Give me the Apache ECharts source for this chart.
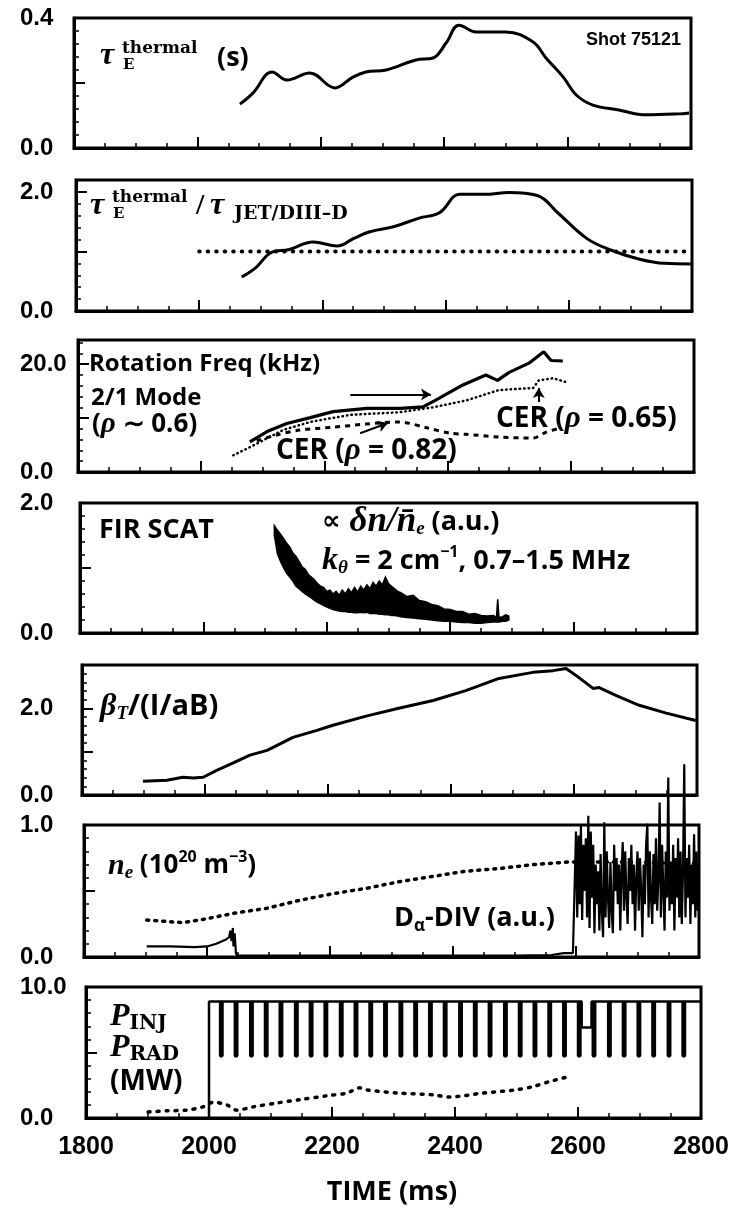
<!DOCTYPE html>
<html><head><meta charset="utf-8">
<script src="https://cdn.jsdelivr.net/npm/echarts@6/dist/echarts.min.js"></script>
<style>html,body{margin:0;padding:0;background:#fff}#c{width:732px;height:1212px}</style>
</head><body><div id="c"></div>
<script>
// ---------- DATA ----------
const xTickLabels = [1800, 2000, 2200, 2400, 2600, 2800];
const yTickLabels = [[0, 0.4], [0, 2.0], [0, 20.0], [0, 2.0], [0, 2.0], [0, 1.0], [0, 10.0]];

// Panel 1: tau_E thermal (s)
const tauETime  = [2069,2090,2121,2145,2182,2223,2252,2273,2306,2354,2382,2403,2424,2452,2500,2544,2565,2593,2614,2641,2683,2727,2780,2797];
const tauEValue = [0.135,0.169,0.234,0.209,0.231,0.185,0.218,0.234,0.240,0.271,0.277,0.323,0.378,0.357,0.357,0.326,0.277,0.218,0.163,0.132,0.117,0.102,0.105,0.108];

// Panel 2: tau_E / tau_JET/DIII-D
const ratioTime  = [2069,2092,2118,2145,2185,2224,2251,2277,2317,2357,2390,2423,2463,2503,2549,2582,2629,2669,2715,2755,2798];
const ratioValue = [0.57,0.73,0.99,1.03,1.16,1.09,1.22,1.33,1.42,1.56,1.65,1.96,1.96,1.99,1.94,1.65,1.22,1.02,0.87,0.80,0.79];
const ratioRefTime  = [2000, 2800];
const ratioRefValue = [1.0, 1.0];

// Panel 3: rotation frequency (kHz)
const rotModeTime  = [2079,2107,2139,2177,2214,2269,2323,2360,2380,2422,2462,2481,2500,2532,2556,2568,2587];
const rotModeValue = [5.6,7.5,9.0,10.1,11.2,11.8,11.8,12.1,13.3,16.0,18.0,17.0,18.5,20.2,22.3,20.7,20.6];
const cer65Time  = [2052,2079,2133,2177,2242,2323,2376,2431,2483,2539,2548,2571,2592];
const cer65Value = [3.1,4.6,7.8,9.3,10.6,11.1,12.0,13.3,15.2,15.6,17.0,17.4,16.7];
const cer82Time  = [2090,2120,2160,2214,2268,2321,2366,2404,2430,2483,2539,2560,2581];
const cer82Value = [5.8,6.8,7.8,8.3,8.9,9.3,8.2,7.2,7.0,6.5,6.3,7.4,8.1];
const rotArrows = [[[2242,14.4],[2373,14.4]], [[2258,7.2],[2303,9.1]], [[2548,13.0],[2548,15.6]]];

// Panel 4: FIR scattering fluctuation band (upper / lower envelope)
const firTime  = [2115,2120,2125,2130,2135,2140,2145,2150,2155,2160,2165,2170,2175,2180,2185,2190,2195,2200,2205,2210,2215,2220,2225,2230,2235,2240,2245,2250,2255,2260,2265,2270,2275,2280,2285,2290,2295,2300,2305,2310,2315,2320,2330,2340,2350,2360,2370,2380,2390,2400,2410,2420,2430,2440,2450,2460,2470,2475,2477,2479,2485,2490,2495];
const firUpper = [1.65,1.58,1.52,1.45,1.38,1.32,1.23,1.18,1.10,1.02,0.98,0.90,0.86,0.82,0.76,0.72,0.70,0.64,0.66,0.60,0.64,0.58,0.66,0.60,0.68,0.62,0.70,0.63,0.72,0.66,0.74,0.68,0.78,0.72,0.80,0.74,0.86,0.76,0.72,0.68,0.64,0.62,0.56,0.58,0.50,0.48,0.44,0.42,0.37,0.36,0.33,0.33,0.29,0.30,0.27,0.26,0.27,0.24,0.52,0.24,0.25,0.28,0.26];
const firLower = [1.50,1.22,1.10,1.00,0.92,0.86,0.80,0.72,0.68,0.64,0.60,0.57,0.54,0.50,0.47,0.45,0.42,0.40,0.38,0.36,0.35,0.34,0.33,0.33,0.32,0.32,0.31,0.31,0.32,0.31,0.32,0.30,0.30,0.30,0.29,0.29,0.28,0.28,0.27,0.27,0.26,0.25,0.24,0.23,0.22,0.21,0.20,0.19,0.18,0.18,0.17,0.16,0.16,0.15,0.15,0.16,0.17,0.17,0.17,0.17,0.18,0.18,0.20];

// Panel 5: beta_T/(I/aB)
const betaTime  = [1899,1938,1964,1981,1997,2019,2046,2073,2101,2143,2182,2208,2262,2315,2371,2424,2478,2533,2566,2587,2608,2631,2641,2668,2706,2750,2798];
const betaValue = [0.32,0.34,0.41,0.39,0.41,0.57,0.74,0.92,1.03,1.33,1.49,1.61,1.82,2.0,2.18,2.41,2.69,2.83,2.87,2.92,2.71,2.46,2.48,2.30,2.07,1.89,1.72];

// Panel 6: n_e (dotted) and D_alpha DIV (solid)
const neTime  = [1902,1961,2000,2042,2098,2151,2205,2259,2312,2367,2421,2475,2530,2589,2650,2700,2750,2800];
const neValue = [0.28,0.26,0.29,0.33,0.37,0.43,0.48,0.52,0.57,0.61,0.65,0.67,0.70,0.72,0.72,0.72,0.71,0.71];
const daTime  = [1902,1940,1980,2000,2015,2030,2036,2038,2040,2042,2043,2045,2047,2049,2100,2200,2300,2400,2500,2560,2580,2595,2598,
  2600,2602,2604,2606,2608,2610,2612,2614,2616,2618,2620,2622,2624,2626,2628,2630,2632,2634,2636,2638,2640,2642,2644,2646,2648,2650,
  2652,2654,2656,2658,2660,2662,2664,2666,2668,2670,2672,2674,2676,2678,2680,2682,2684,2686,2688,2690,2692,2694,2696,2698,2700,
  2702,2704,2706,2708,2710,2712,2714,2716,2718,2720,2722,2724,2726,2728,2730,2732,2734,2736,2738,2740,2742,2744,2746,2748,2750,
  2752,2754,2756,2758,2760,2762,2764,2766,2768,2770,2772,2774,2776,2778,2780,2782,2784,2786,2788,2790,2792,2794,2796,2798,2800];
const daValue = [0.08,0.08,0.075,0.08,0.10,0.13,0.15,0.20,0.12,0.22,0.08,0.18,0.03,0.01,0.01,0.01,0.01,0.01,0.01,0.015,0.03,0.03,0.03,
  0.95,0.30,0.92,0.40,1.00,0.28,0.85,0.50,0.90,0.30,1.07,0.22,0.95,0.45,0.85,0.18,0.70,0.40,0.65,0.20,0.78,0.35,0.15,1.02,0.30,0.80,
  0.45,0.22,0.72,0.35,0.18,0.85,0.50,0.75,0.40,0.70,0.20,0.65,0.87,0.35,0.80,0.45,0.25,0.75,0.50,0.85,0.40,0.70,0.20,0.60,0.80,
  0.35,0.75,0.50,0.15,0.70,0.40,0.85,1.01,0.30,0.80,0.45,0.25,0.78,0.40,0.90,0.35,0.60,1.17,0.30,0.85,0.50,0.20,0.80,0.45,1.36,
  0.35,0.70,0.40,0.85,0.20,0.75,0.45,0.90,0.30,0.80,0.25,0.65,1.46,0.30,0.75,0.45,0.85,0.25,0.70,0.40,0.93,0.30,0.80,0.35,0.60];

// Panel 7: P_INJ (modulated beam) and P_RAD (dotted)
const pinjOnTime = 2000;
const pinjHigh = 8.9;
const pinjLow = 4.6;
const pinjDipWidth = 8;
const pinjDipTimes = [2016,2040,2065,2089,2113,2138,2162,2186,2211,2235,2259,2283,2308,2332,2356,2380,2405,2429,2453,2478,2502,2526,2550,2574,2598,2622,2647,2671,2695,2719,2744,2768];
const pinjReduced = {from: 2606, to: 2622, level: 6.9};
const pradTime  = [1901,1932,1964,1990,2007,2029,2045,2072,2111,2148,2192,2224,2245,2255,2309,2364,2390,2445,2499,2527,2553,2580];
const pradValue = [0.46,0.55,0.6,0.85,1.2,1.0,0.6,0.85,1.15,1.4,1.7,1.9,2.3,2.15,1.9,1.77,1.6,1.9,2.15,2.4,2.77,3.1];

// ---------- BUILD ----------
const pair = (ts, vs) => ts.map((t, i) => [t, vs[i]]);
const pinjEnvelope = [[pinjOnTime, 0], [pinjOnTime, pinjHigh], [pinjReduced.from, pinjHigh], [pinjReduced.from, pinjReduced.level],
  [pinjReduced.to, pinjReduced.level], [pinjReduced.to, pinjHigh], [2800, pinjHigh]];

const grids = [
  {left: 74, top: 18,  width: 617, height: 130},
  {left: 76, top: 180, width: 616, height: 131},
  {left: 78, top: 340, width: 616, height: 132},
  {left: 80, top: 503, width: 617, height: 130},
  {left: 82, top: 665, width: 615, height: 130},
  {left: 84, top: 825, width: 615, height: 132},
  {left: 86, top: 987, width: 615, height: 131}
];
const yMax = [0.4, 2.2, 24.5, 2.0, 3.0, 1.0, 10];
const yInterval = [0.2, 1, 10, 1, 1, 0.5, 5];

const K = '#000';
const option = {
  animation: false,
  backgroundColor: '#fff',
  grid: grids.map(g => Object.assign({show: true, borderColor: K, borderWidth: 3, backgroundColor: 'transparent'}, g)),
  xAxis: grids.map((g, i) => ({
    type: 'value', gridIndex: i, min: 1800, max: 2800, interval: 200,
    axisLine: {lineStyle: {color: K, width: 3}},
    axisTick: {inside: true, length: 11, lineStyle: {color: K, width: 2}},
    minorTick: {show: true, splitNumber: 4, length: 5, lineStyle: {color: K, width: 1.5}},
    splitLine: {show: false},
    axisLabel: {show: i === 6, margin: 17, color: K, fontFamily: 'Liberation Sans Narrow, Liberation Sans', fontWeight: 'bold', fontSize: 25,
      formatter: v => xTickLabels.includes(v) ? String(v) : ''}
  })),
  yAxis: grids.map((g, i) => ({
    type: 'value', gridIndex: i, min: 0, max: yMax[i], interval: yInterval[i],
    axisLine: {lineStyle: {color: K, width: 3}},
    axisTick: {inside: true, length: 11, lineStyle: {color: K, width: 2}},
    minorTick: {show: true, splitNumber: 5, length: 5, lineStyle: {color: K, width: 1.5}},
    splitLine: {show: false},
    axisLabel: {show: true, margin: g.left - 20, align: 'left', color: K, fontFamily: 'Liberation Sans', fontWeight: 'bold', fontSize: 24,
      formatter: v => yTickLabels[i].some(s => Math.abs(s - v) < 1e-9) ? v.toFixed(1) : ''}
  })),
  series: [
    {type: 'line', xAxisIndex: 0, yAxisIndex: 0, data: pair(tauETime, tauEValue), smooth: 0.4, showSymbol: false, lineStyle: {color: K, width: 3}},
    {type: 'line', xAxisIndex: 1, yAxisIndex: 1, data: pair(ratioTime, ratioValue), smooth: 0.4, showSymbol: false, lineStyle: {color: K, width: 3}},
    {type: 'line', xAxisIndex: 1, yAxisIndex: 1, data: pair(ratioRefTime, ratioRefValue), showSymbol: false, lineStyle: {color: K, width: 4, type: [0.5, 8], cap: 'round'}},
    {type: 'line', xAxisIndex: 2, yAxisIndex: 2, data: pair(rotModeTime, rotModeValue), showSymbol: false, lineStyle: {color: K, width: 3.2},
      markLine: {silent: true, symbol: ['none', 'arrow'], symbolSize: [9, 10], label: {show: false}, lineStyle: {color: K, width: 2, type: 'solid'},
        data: rotArrows.map(a => [{coord: a[0]}, {coord: a[1]}])}},
    {type: 'line', xAxisIndex: 2, yAxisIndex: 2, data: pair(cer65Time, cer65Value), showSymbol: false, lineStyle: {color: K, width: 2.5, type: [0.5, 4], cap: 'round'}},
    {type: 'line', xAxisIndex: 2, yAxisIndex: 2, data: pair(cer82Time, cer82Value), smooth: 0.3, showSymbol: false, lineStyle: {color: K, width: 3, type: [5, 5]}},
    {type: 'custom', xAxisIndex: 3, yAxisIndex: 3, data: [[firTime[0], firUpper[0]]], clip: true,
      renderItem: (params, api) => {
        const up = firTime.map((t, i) => api.coord([t, firUpper[i]]));
        const lo = firTime.map((t, i) => api.coord([t, firLower[i]])).reverse();
        return {type: 'polygon', shape: {points: up.concat(lo)}, style: {fill: K, stroke: K, lineWidth: 1.5, lineJoin: 'miter'}};
      }},
    {type: 'line', xAxisIndex: 4, yAxisIndex: 4, data: pair(betaTime, betaValue), showSymbol: false, lineStyle: {color: K, width: 3}},
    {type: 'line', xAxisIndex: 5, yAxisIndex: 5, data: pair(neTime, neValue), showSymbol: false, lineStyle: {color: K, width: 3.5, type: [2, 6], cap: 'round'}},
    {type: 'line', xAxisIndex: 5, yAxisIndex: 5, data: pair(daTime, daValue), showSymbol: false, clip: false, lineStyle: {color: K, width: 2.2}},
    {type: 'line', xAxisIndex: 6, yAxisIndex: 6, data: pinjEnvelope, showSymbol: false, lineStyle: {color: K, width: 2.5}},
    {type: 'custom', xAxisIndex: 6, yAxisIndex: 6, data: pinjDipTimes.map(t => [t, pinjLow]),
      renderItem: (params, api) => {
        const t = api.value(0);
        const a = api.coord([t, pinjHigh]);
        const b = api.coord([t + pinjDipWidth, pinjLow]);
        return {type: 'rect', shape: {x: a[0], y: a[1], width: b[0] - a[0], height: b[1] - a[1], r: [0, 0, 2.5, 2.5]}, style: {fill: K}};
      }},
    {type: 'line', xAxisIndex: 6, yAxisIndex: 6, data: pair(pradTime, pradValue), smooth: 0.3, showSymbol: false, lineStyle: {color: K, width: 3.5, type: [2, 7], cap: 'round'}}
  ]
};

// ---------- TEXT ----------
function rich(sz, msz, scsz) {
  msz = msz || 30;
  const SANS = 'Open Sans';
  return {
    m:    {fontFamily: 'Liberation Serif', fontStyle: 'italic', fontWeight: 'bold', fontSize: msz, lineHeight: 34, verticalAlign: 'middle', fill: K},
    mi:   {fontFamily: 'Liberation Serif', fontStyle: 'italic', fontWeight: 'bold', fontSize: sz + 3, lineHeight: 34, verticalAlign: 'middle', fill: K},
    msub: {fontFamily: 'Liberation Serif', fontStyle: 'italic', fontWeight: 'bold', fontSize: 19, lineHeight: 16, verticalAlign: 'bottom', fill: K},
    s:    {fontFamily: SANS, fontWeight: 'bold', fontSize: sz, lineHeight: 34, verticalAlign: 'middle', fill: K},
    sup:  {fontFamily: SANS, fontWeight: 'bold', fontSize: 16, lineHeight: 18, verticalAlign: 'top', fill: K},
    ssub: {fontFamily: SANS, fontWeight: 'bold', fontSize: 17, lineHeight: 16, verticalAlign: 'bottom', fill: K},
    sc:   {fontFamily: 'DejaVu Serif', fontWeight: 'bold', fontSize: scsz || 18, lineHeight: 20, verticalAlign: 'bottom', fill: K},
    sym:  {fontFamily: 'DejaVu Sans', fontWeight: 'bold', fontSize: 26, lineHeight: 34, verticalAlign: 'middle', fill: K}
  };
}
function R(x, y, text, sz, msz, scsz) {
  return {type: 'text', x, y, silent: true, style: {text, rich: rich(sz, msz, scsz), fill: K, align: 'left', verticalAlign: 'middle', textAlign: 'left', textVerticalAlign: 'middle'}};
}
function T(x, y, text, font, align) {
  return {type: 'text', x, y, silent: true, style: {text, font, fill: K, align: align || 'left', verticalAlign: 'middle', textAlign: align || 'left', textVerticalAlign: 'middle'}};
}
const serifB = 'bold 17px "DejaVu Serif"';
const tauFont = 'italic bold 32px "Liberation Serif"';
const sans = sz => 'bold ' + sz + 'px "Open Sans"';
option.graphic = [
  // panel 1
  T(100, 56, 'τ', tauFont), T(122, 49, 'thermal', serifB), T(123, 65, 'E', 'bold 15px "DejaVu Serif"'),
  T(217, 58, '(s)', sans(27)),
  T(586, 40, 'Shot 75121', 'bold 18px "Liberation Sans"'),
  // panel 2
  T(90, 206, 'τ', tauFont), T(112, 198, 'thermal', serifB), T(113, 214, 'E', 'bold 15px "DejaVu Serif"'),
  T(196, 206, '/', 'bold 30px "Liberation Serif"'), T(210, 206, 'τ', tauFont), T(234, 214, 'JET/DIII–D', 'bold 19px "DejaVu Serif"'),
  // panel 3
  T(89, 364, 'Rotation Freq (kHz)', sans(24)),
  T(91, 398, '2/1 Mode', sans(24)),
  R(92, 425, '{s|(}{mi|ρ}{s| ∼ 0.6)}', 26),
  R(276, 451, '{s|CER (}{mi|ρ}{s| = 0.82)}', 28),
  R(496, 419, '{s|CER (}{mi|ρ}{s| = 0.65)}', 28),
  // panel 4
  T(99, 530, 'FIR SCAT', sans(27)),
  R(322, 522, '{sym|∝ }{m|δn/n̄}{msub|e}{s| (a.u.)}', 27, 35),
  R(322, 561, '{m|k}{msub|θ}{s| = 2 cm}{sup|−1}{s|, 0.7–1.5 MHz}', 27, 32),
  // panel 5
  R(100, 707, '{m|β}{msub|T}{s|/(I/aB)}', 29, 32),
  // panel 6
  R(108, 866, '{m|n}{msub|e}{s| (10}{sup|20}{s| m}{sup|−3}{s|)}', 26),
  R(394, 918, '{s|D}{ssub|α}{s|-DIV (a.u.)}', 27),
  // panel 7
  R(110, 1017, '{m|P}{sc|INJ}', 26, 32, 20),
  R(110, 1048, '{m|P}{sc|RAD}', 26, 32, 20),
  T(110, 1082, '(MW)', sans(28)),
  // x title
  T(392, 1192, 'TIME (ms)', sans(27), 'center')
];

const chart = echarts.init(document.getElementById('c'), null, {renderer: 'canvas'});
chart.setOption(option);
</script>
</body></html>
